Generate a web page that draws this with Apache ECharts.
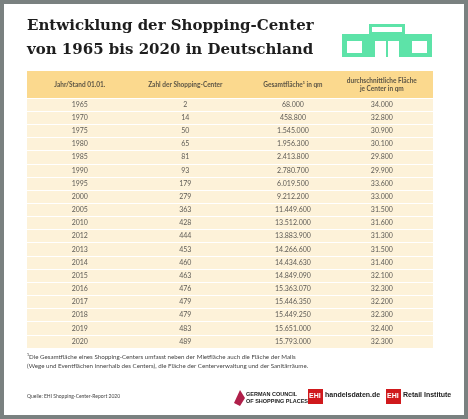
<!DOCTYPE html>
<html><head><meta charset="utf-8">
<script src="https://cdn.jsdelivr.net/npm/echarts@6/dist/echarts.min.js"></script>
<style>html,body{margin:0;padding:0;background:#7a8180}#c{width:468px;height:419px}</style>
</head><body><div id="c"></div>
<script>
var years = ['1965','1970','1975','1980','1985','1990','1995','2000','2005','2010','2012','2013','2014','2015','2016','2017','2018','2019','2020'];
var centers = ['2','14','50','65','81','93','179','279','363','428','444','453','460','463','476','479','479','483','489'];
var totalArea = ['68.000','458.800','1.545.000','1.956.300','2.413.800','2.780.700','6.019.500','9.212.200','11.449.600','13.512.000','13.883.900','14.266.600','14.434.630','14.849.090','15.363.070','15.446.350','15.449.250','15.651.000','15.793.000'];
var avgArea = ['34.000','32.800','30.900','30.100','29.800','29.900','33.600','33.000','31.500','31.600','31.300','31.500','31.400','32.100','32.300','32.200','32.300','32.400','32.300'];
var headers = ['Jahr/Stand 01.01.','Zahl der Shopping-Center','Gesamtfläche¹ in qm','durchschnittliche Fläche\nje Center in qm'];
var colPos = [13, 39, 65.5, 87.4];

var columns = [years, centers, totalArea, avgArea];
var font = 'Lato, "Noto Sans", sans-serif';

function cellSeries(col, i) {
    return {
        type: 'scatter', symbolSize: 0, silent: true,
        data: col.map(function (v, r) { return [colPos[i], years[r], v]; }),
        label: { show: true, position: 'inside', formatter: function (p) { return p.data[2]; },
            color: '#333', fontSize: 7, fontFamily: font }
    };
}
var series = columns.map(cellSeries);
series.push({
    type: 'scatter', symbolSize: 0, silent: true, xAxisIndex: 1, yAxisIndex: 1,
    data: headers.map(function (h, i) { return [colPos[i], 0, h]; }),
    label: { show: true, position: 'inside', formatter: function (p) { return p.data[2]; },
        color: '#333', fontSize: 6.5, fontWeight: 'bold', fontFamily: font, lineHeight: 8 }
});

var green = '#5de3a8';
var chart = echarts.init(document.getElementById('c'));
chart.setOption({
    animation: false,
    grid: [
        { left: 27, right: 35, top: 98, bottom: 71, show: true, backgroundColor: '#fdf2d9', borderWidth: 0 },
        { left: 27, right: 35, top: 71, height: 27, show: true, backgroundColor: '#fbd98e', borderWidth: 0 }
    ],
    xAxis: [
        { type: 'value', min: 0, max: 100, show: false, gridIndex: 0 },
        { type: 'value', min: 0, max: 100, show: false, gridIndex: 1 }
    ],
    yAxis: [
        { type: 'category', data: years, inverse: true, gridIndex: 0,
          axisLine: { show: false }, axisTick: { show: false }, axisLabel: { show: false },
          splitLine: { show: true, interval: 0, lineStyle: { color: '#fff', width: 1 } } },
        { type: 'value', min: -1, max: 1, show: false, gridIndex: 1 }
    ],
    series: series,
    graphic: [
        { type: 'rect', z: -10, shape: { x: 4, y: 4, width: 460, height: 411 }, style: { fill: '#fff' } },
        { type: 'text', x: 27, y: 14, style: { text: 'Entwicklung der Shopping-Center\nvon 1965 bis 2020 in Deutschland',
            font: 'bold 15px "DejaVu Serif", serif', fill: '#1e1e1e', lineHeight: 24 } },
        // storefront icon
        { type: 'group', x: 342, y: 24, children: [
            { type: 'rect', shape: { x: 27, y: 0, width: 36, height: 10 }, style: { fill: green } },
            { type: 'rect', shape: { x: 30, y: 3, width: 30, height: 5 }, style: { fill: '#fff' } },
            { type: 'rect', shape: { x: 24, y: 10, width: 42, height: 4 }, style: { fill: green } },
            { type: 'rect', shape: { x: 0, y: 10, width: 26, height: 23 }, style: { fill: green } },
            { type: 'rect', shape: { x: 64, y: 10, width: 26, height: 23 }, style: { fill: green } },
            { type: 'rect', shape: { x: 26, y: 14, width: 38, height: 19 }, style: { fill: green } },
            { type: 'rect', shape: { x: 5, y: 17, width: 15, height: 12 }, style: { fill: '#fff' } },
            { type: 'rect', shape: { x: 70, y: 17, width: 15, height: 12 }, style: { fill: '#fff' } },
            { type: 'rect', shape: { x: 33, y: 17, width: 11, height: 16 }, style: { fill: '#fff' } },
            { type: 'rect', shape: { x: 46, y: 17, width: 11, height: 16 }, style: { fill: '#fff' } }
        ] },
        { type: 'text', x: 27, y: 353, style: { text: '¹Die Gesamtfläche eines Shopping-Centers umfasst neben der Mietfläche auch die Fläche der Malls\n(Wege und Eventflächen innerhalb des Centers), die Fläche der Centerverwaltung und der Sanitärräume.',
            font: '6.2px Lato, sans-serif', fill: '#444', lineHeight: 9 } },
        { type: 'text', x: 27, y: 394, style: { text: 'Quelle: EHI Shopping-Center-Report 2020', font: '5px Lato, sans-serif', fill: '#444' } },
        { type: 'polygon', shape: { points: [[234, 403], [240, 390], [245, 398], [240, 406]] }, style: { fill: '#b0204a' } },
        { type: 'text', x: 246, y: 391, style: { text: 'GERMAN COUNCIL\nOF SHOPPING PLACES', font: 'bold 5.5px "Liberation Sans Narrow", sans-serif', fill: '#222', lineHeight: 7 } },
        { type: 'rect', shape: { x: 308, y: 389, width: 15, height: 15 }, style: { fill: '#d0191c' } },
        { type: 'text', x: 309, y: 393, style: { text: 'EHI', font: 'bold 7px sans-serif', fill: '#fff' } },
        { type: 'text', x: 325, y: 392, style: { text: 'handelsdaten.de', font: 'bold 7px "Liberation Sans Narrow", sans-serif', fill: '#222' } },
        { type: 'rect', shape: { x: 386, y: 389, width: 15, height: 15 }, style: { fill: '#d0191c' } },
        { type: 'text', x: 387, y: 393, style: { text: 'EHI', font: 'bold 7px sans-serif', fill: '#fff' } },
        { type: 'text', x: 403, y: 392, style: { text: 'Retail Institute', font: 'bold 7px "Liberation Sans Narrow", sans-serif', fill: '#222' } }
    ]
});
</script></body></html>
